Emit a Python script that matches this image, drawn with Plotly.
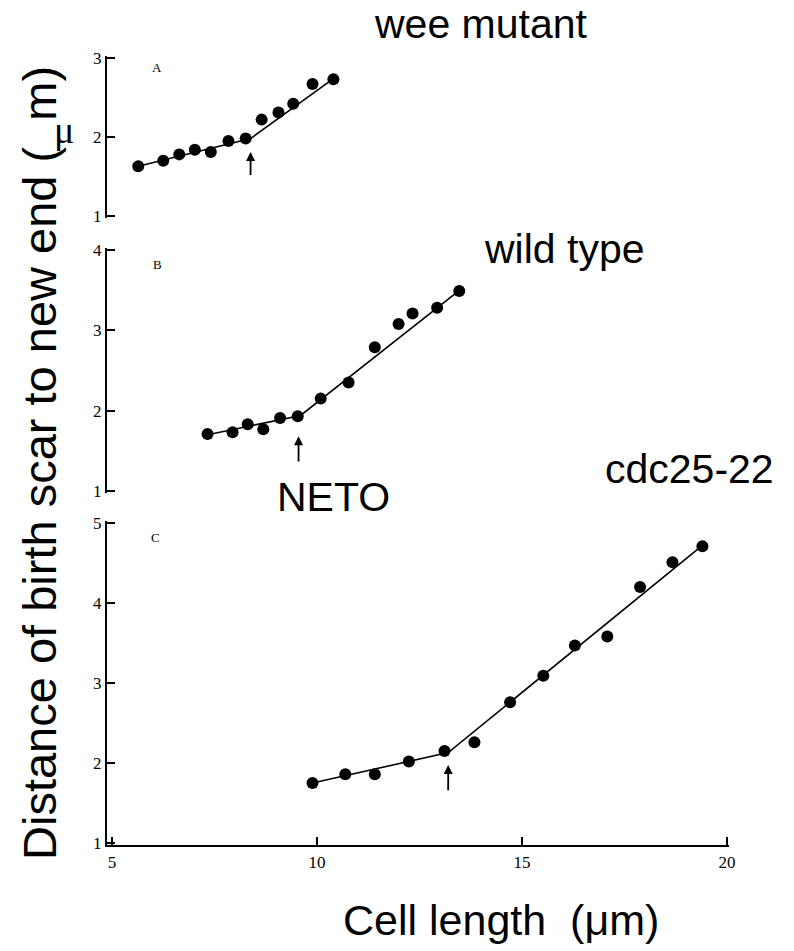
import plotly.graph_objects as go

W, H = 794, 951

# ---- data ----
a_x = [5.64, 6.25, 6.64, 7.02, 7.41, 7.84, 8.26, 8.65, 9.06, 9.42, 9.89, 10.40]
a_y = [1.63, 1.70, 1.78, 1.84, 1.81, 1.95, 1.98, 2.22, 2.31, 2.42, 2.67, 2.73]
a_fit_x = [5.64, 8.38, 10.40]
a_fit_y = [1.63, 1.98, 2.74]
a_arrow = (8.38, 1.81, 1.50)

b_x = [7.33, 7.94, 8.31, 8.69, 9.10, 9.53, 10.09, 10.77, 11.41, 11.99, 12.33, 12.93, 13.47]
b_y = [1.71, 1.73, 1.83, 1.77, 1.91, 1.93, 2.15, 2.35, 2.79, 3.08, 3.21, 3.28, 3.49]
b_fit_x = [7.33, 9.60, 13.48]
b_fit_y = [1.70, 1.94, 3.50]
b_arrow = (9.55, 1.68, 1.35)

c_x = [9.89, 10.69, 11.41, 12.24, 13.11, 13.84, 14.71, 15.52, 16.29, 17.08, 17.88, 18.67, 19.40]
c_y = [1.75, 1.86, 1.86, 2.02, 2.15, 2.26, 2.76, 3.09, 3.47, 3.58, 4.20, 4.51, 4.71]
c_fit_x = [9.89, 13.20, 19.40]
c_fit_y = [1.75, 2.13, 4.72]
c_arrow = (13.2, 1.975, 1.64)

x_ticks = [5, 10, 15, 20]
a_ticks = [1, 2, 3]
b_ticks = [1, 2, 3, 4]
c_ticks = [1, 2, 3, 4, 5]


def px(x):
    return x / W


def py(y):
    return 1 - y / H


PAD = 2.0  # px of slack at axis ends so end ticks are drawn


def ydomain(top_px, bot_px, lo, hi):
    per = (bot_px - top_px) / (hi - lo)
    e = PAD / per
    return [py(bot_px + PAD), py(top_px - PAD)], [lo - e, hi + e]


# x scale: 5 -> 112 px, 20 -> 727 px (41 px per unit)
XPU = 41.0
x_lo = 5 - 5 / XPU
x_hi = 20 + PAD / XPU
xdom = [px(107), px(727 + PAD)]
xrange_ = [x_lo, x_hi]

fig = go.Figure()

panels = [
    ("x", "y", a_x, a_y, a_fit_x, a_fit_y),
    ("x2", "y2", b_x, b_y, b_fit_x, b_fit_y),
    ("x3", "y3", c_x, c_y, c_fit_x, c_fit_y),
]
for xa, ya, xs, ys, fx, fy in panels:
    fig.add_trace(go.Scatter(x=fx, y=fy, mode="lines", xaxis=xa, yaxis=ya,
                             line=dict(color="black", width=1.6), showlegend=False,
                             hoverinfo="skip"))
    fig.add_trace(go.Scatter(x=xs, y=ys, mode="markers", xaxis=xa, yaxis=ya,
                             marker=dict(color="black", size=12), showlegend=False))

tickfont = dict(family="Liberation Serif", size=17, color="black")

yax_common = dict(showline=True, linecolor="black", linewidth=2.2, ticks="inside",
                  ticklen=8, tickwidth=2.2, tickcolor="black", showgrid=False,
                  zeroline=False, tickfont=tickfont, automargin=False)

da, ra = ydomain(58, 216, 1, 3)
db, rb = ydomain(250, 491, 1, 4)
dc, rc = ydomain(523, 843, 1, 5)

fig.update_layout(
    width=W, height=H,
    margin=dict(l=0, r=0, t=0, b=0, pad=0),
    paper_bgcolor="white", plot_bgcolor="white",
    xaxis=dict(domain=xdom, range=xrange_, visible=False, anchor="y", automargin=False),
    xaxis2=dict(domain=xdom, range=xrange_, visible=False, anchor="y2", automargin=False),
    xaxis3=dict(domain=xdom, range=xrange_, anchor="y3", showline=True,
                linecolor="black", linewidth=2.2, ticks="inside", ticklen=8,
                tickwidth=2.2, tickcolor="black", tickvals=x_ticks, showgrid=False,
                zeroline=False, tickfont=tickfont, automargin=False),
    yaxis=dict(domain=da, range=ra, tickvals=a_ticks, anchor="x", **yax_common),
    yaxis2=dict(domain=db, range=rb, tickvals=b_ticks, anchor="x2", **yax_common),
    yaxis3=dict(domain=dc, range=rc, tickvals=c_ticks, anchor="x3", **yax_common),
)

# arrows marking NETO
for (xa, ya), (ax_, head, tail) in zip([("x", "y"), ("x2", "y2"), ("x3", "y3")],
                                       [a_arrow, b_arrow, c_arrow]):
    fig.add_annotation(x=ax_, y=head, ax=ax_, ay=tail, xref=xa, yref=ya,
                       axref=xa, ayref=ya, showarrow=True, arrowhead=2,
                       arrowsize=1, arrowwidth=1.8, arrowcolor="black", text="")

# panel letters
for letter, (lx, ly) in zip(["A", "B", "C"], [(157, 67), (157, 264), (155, 537)]):
    fig.add_annotation(x=px(lx), y=py(ly), xref="paper", yref="paper",
                       text=letter, showarrow=False,
                       font=dict(family="Liberation Serif", size=13, color="black"),
                       xanchor="center", yanchor="middle")

big = dict(family="Liberation Sans", size=41, color="black")
labels = [
    ("wee mutant", 481, 24),
    ("wild type", 564, 249),
    ("NETO", 333, 497),
    ("cdc25-22", 689, 469),
]
for t, lx, ly in labels:
    fig.add_annotation(x=px(lx), y=py(ly), xref="paper", yref="paper", text=t,
                       showarrow=False, font=big, xanchor="center", yanchor="middle")

fig.add_annotation(x=px(501), y=py(920), xref="paper", yref="paper",
                   text="Cell length  (μm)", showarrow=False,
                   font=dict(family="Liberation Sans", size=43, color="black"),
                   xanchor="center", yanchor="middle")

fig.add_annotation(x=px(39), y=py(463), xref="paper", yref="paper",
                   text="Distance of birth scar to new end (  m)", textangle=-90,
                   showarrow=False, font=dict(family="Liberation Sans", size=47, color="black"),
                   xanchor="center", yanchor="middle")
fig.add_annotation(x=px(64), y=py(130), xref="paper", yref="paper", text="μ",
                   showarrow=False, font=dict(family="Liberation Serif", size=38, color="black"),
                   xanchor="center", yanchor="middle")

fig.write_html("out.html")
